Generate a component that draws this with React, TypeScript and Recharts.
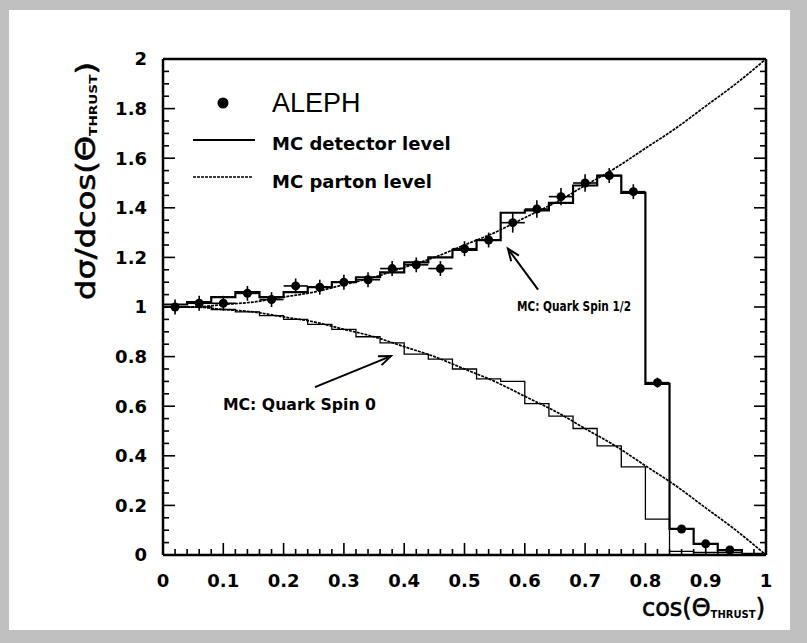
import React from "react";
import {
  ComposedChart,
  Line,
  Scatter,
  ErrorBar,
  XAxis,
  YAxis,
  ReferenceLine,
} from "recharts";

// bin edges of the cos(theta_thrust) histograms
const binEdges = [
  0, 0.04, 0.08, 0.12, 0.16, 0.2, 0.24, 0.28, 0.32, 0.36, 0.4, 0.44, 0.48,
  0.52, 0.56, 0.6, 0.64, 0.68, 0.72, 0.76, 0.8, 0.84, 0.88, 0.92, 0.96, 1.0,
];
const binCenters = [
  0.02, 0.06, 0.1, 0.14, 0.18, 0.22, 0.26, 0.3, 0.34, 0.38, 0.42, 0.46, 0.5,
  0.54, 0.58, 0.62, 0.66, 0.7, 0.74, 0.78, 0.82, 0.86, 0.9, 0.94,
];

const alephValues = [
  1.0, 1.015, 1.015, 1.055, 1.03, 1.085, 1.08, 1.1, 1.11, 1.155, 1.17, 1.155,
  1.235, 1.27, 1.34, 1.395, 1.445, 1.5, 1.53, 1.465, 0.695, 0.105, 0.045, 0.02,
];
const alephErrors = [
  0.03, 0.03, 0.03, 0.03, 0.03, 0.03, 0.03, 0.03, 0.03, 0.03, 0.03, 0.03, 0.03,
  0.03, 0.04, 0.035, 0.035, 0.035, 0.03, 0.03, 0.02, 0.01, 0.01, 0.01,
];

// MC detector level, one value per bin
const mcSpinHalf = [
  1.01, 1.02, 1.04, 1.06, 1.04, 1.06, 1.08, 1.1, 1.12, 1.14, 1.18, 1.2, 1.23,
  1.27, 1.38, 1.39, 1.42, 1.49, 1.53, 1.46, 0.69, 0.105, 0.045, 0.02, 0.005,
];
const mcSpinZero = [
  1.0, 1.0, 0.99, 0.98, 0.965, 0.95, 0.93, 0.91, 0.88, 0.855, 0.81, 0.79, 0.75,
  0.71, 0.7, 0.61, 0.56, 0.51, 0.44, 0.355, 0.145, 0.015, 0.01, 0.01, 0.005,
];

// MC parton level curves
const partonX = [
  0, 0.05, 0.1, 0.15, 0.2, 0.25, 0.3, 0.35, 0.4, 0.45, 0.5, 0.55, 0.6, 0.65,
  0.7, 0.75, 0.8, 0.85, 0.9, 0.95, 1.0,
];
const partonSpinHalf = [
  1.0, 1.0, 1.01, 1.02, 1.04, 1.06, 1.09, 1.12, 1.16, 1.2, 1.25, 1.3, 1.36,
  1.42, 1.49, 1.56, 1.64, 1.72, 1.81, 1.9, 2.0,
];
const partonSpinZero = [
  1.0, 1.0, 0.99, 0.98, 0.96, 0.94, 0.91, 0.88, 0.84, 0.8, 0.75, 0.7, 0.64,
  0.58, 0.51, 0.44, 0.36, 0.28, 0.19, 0.1, 0.0,
];

const xTickLabels = ["0", "0.1", "0.2", "0.3", "0.4", "0.5", "0.6", "0.7", "0.8", "0.9", "1"];
const yTickLabels = ["0", "0.2", "0.4", "0.6", "0.8", "1", "1.2", "1.4", "1.6", "1.8", "2"];

const histo = (vals: number[]) =>
  binEdges.map((x, i) => ({ x, y: vals[Math.min(i, vals.length - 1)] }));
const curve = (vals: number[]) => partonX.map((x, i) => ({ x, y: vals[i] }));
const alephData = binCenters.map((x, i) => ({
  x,
  y: alephValues[i],
  ey: alephErrors[i],
  ex: 0.02,
}));

const xTicks: number[] = [];
for (let i = 0; i <= 50; i++) xTicks.push(i / 50);
const yTicks: number[] = [];
for (let i = 0; i <= 40; i++) yTicks.push(i / 20);

const near = (a: number, b: number) => Math.abs(a - b) < 1e-6;
const xLabel = (v: number) => {
  const k = xTickLabels.findIndex((_, i) => near(v, i / 10));
  return k >= 0 ? xTickLabels[k] : null;
};
const yLabel = (v: number) => {
  const k = yTickLabels.findIndex((_, i) => near(v, i / 5));
  return k >= 0 ? yTickLabels[k] : null;
};

const FONT = "'DejaVu Sans', sans-serif";
const MAJ = 12;
const MIN = 6;

const BottomTick = (p: any) => {
  const lab = xLabel(p.payload.value);
  return (
    <g>
      <line x1={p.x} x2={p.x} y1={p.y} y2={p.y - (lab ? MAJ : MIN)} stroke="#000" strokeWidth={1.6} />
      {lab && (
        <text x={p.x} y={p.y + 32} textAnchor="middle" fontFamily={FONT} fontWeight="bold" fontSize={18} fill="#000">
          {lab}
        </text>
      )}
    </g>
  );
};
const TopTick = (p: any) => {
  const lab = xLabel(p.payload.value);
  return <line x1={p.x} x2={p.x} y1={p.y} y2={p.y + (lab ? MAJ : MIN)} stroke="#000" strokeWidth={1.6} />;
};
const LeftTick = (p: any) => {
  const lab = yLabel(p.payload.value);
  return (
    <g>
      <line x1={p.x} x2={p.x + (lab ? MAJ : MIN)} y1={p.y} y2={p.y} stroke="#000" strokeWidth={1.6} />
      {lab && (
        <text x={p.x - 16} y={p.y} dy="0.36em" textAnchor="end" fontFamily={FONT} fontWeight="bold" fontSize={18} fill="#000">
          {lab}
        </text>
      )}
    </g>
  );
};
const RightTick = (p: any) => {
  const lab = yLabel(p.payload.value);
  return <line x1={p.x} x2={p.x - (lab ? MAJ : MIN)} y1={p.y} y2={p.y} stroke="#000" strokeWidth={1.6} />;
};

const arrowShape = (p: any) => {
  const { x1, y1, x2, y2 } = p;
  const a = Math.atan2(y2 - y1, x2 - x1);
  const L = 13;
  const s = 0.38;
  const ax = x2 - L * Math.cos(a - s);
  const ay = y2 - L * Math.sin(a - s);
  const bx = x2 - L * Math.cos(a + s);
  const by = y2 - L * Math.sin(a + s);
  return (
    <g>
      <line x1={x1} y1={y1} x2={x2} y2={y2} stroke="#000" strokeWidth={2} />
      <polyline points={`${ax},${ay} ${x2},${y2} ${bx},${by}`} fill="none" stroke="#000" strokeWidth={2} />
    </g>
  );
};

const Dot = (p: any) => <circle cx={p.cx} cy={p.cy} r={4.5} fill="#000" />;

const axisLine = { stroke: "#000", strokeWidth: 2.5 };

export default function App() {
  return (
    <div style={{ position: "absolute", left: 0, top: 0, width: 807, height: 643, background: "#c0c0c0" }}>
      <div style={{ position: "absolute", left: 9, top: 10, width: 781, height: 620, background: "#fff" }} />
      <div style={{ position: "absolute", left: 0, top: 0 }}>
        <ComposedChart width={807} height={643} margin={{ top: 58, right: 40, bottom: 87, left: 162 }}>
          <XAxis
            dataKey="x"
            type="number"
            domain={[0, 1]}
            ticks={xTicks}
            interval={0}
            height={1}
            tickSize={0}
            tickMargin={0}
            tickLine={false}
            axisLine={axisLine}
            tick={BottomTick}
            allowDataOverflow
          />
          <XAxis
            xAxisId="top"
            orientation="top"
            type="number"
            domain={[0, 1]}
            ticks={xTicks}
            interval={0}
            height={1}
            tickSize={0}
            tickMargin={0}
            tickLine={false}
            axisLine={axisLine}
            tick={TopTick}
            allowDataOverflow
          />
          <YAxis
            type="number"
            domain={[0, 2]}
            ticks={yTicks}
            interval={0}
            width={1}
            tickSize={0}
            tickMargin={0}
            tickLine={false}
            axisLine={axisLine}
            tick={LeftTick}
            allowDataOverflow
          />
          <YAxis
            yAxisId="right"
            orientation="right"
            type="number"
            domain={[0, 2]}
            ticks={yTicks}
            interval={0}
            width={1}
            tickSize={0}
            tickMargin={0}
            tickLine={false}
            axisLine={axisLine}
            tick={RightTick}
            allowDataOverflow
          />
          <Line data={curve(partonSpinHalf)} dataKey="y" type="monotone" stroke="#000" strokeWidth={1.7} strokeDasharray="3 1" dot={false} isAnimationActive={false} />
          <Line data={curve(partonSpinZero)} dataKey="y" type="monotone" stroke="#000" strokeWidth={1.7} strokeDasharray="3 1" dot={false} isAnimationActive={false} />
          <Line data={histo(mcSpinZero)} dataKey="y" type="stepAfter" stroke="#000" strokeWidth={1.3} dot={false} isAnimationActive={false} />
          <Line data={histo(mcSpinHalf)} dataKey="y" type="stepAfter" stroke="#000" strokeWidth={2.2} dot={false} isAnimationActive={false} />
          <Scatter data={alephData} dataKey="y" shape={Dot} isAnimationActive={false}>
            <ErrorBar dataKey="ey" direction="y" width={0} stroke="#000" strokeWidth={1.6} />
            <ErrorBar dataKey="ex" direction="x" width={0} stroke="#000" strokeWidth={1.6} />
          </Scatter>
          <ReferenceLine segment={[{ x: 0.622, y: 1.07 }, { x: 0.572, y: 1.235 }]} shape={arrowShape} />
          <ReferenceLine segment={[{ x: 0.252, y: 0.677 }, { x: 0.378, y: 0.802 }]} shape={arrowShape} />
        </ComposedChart>
      </div>
      <svg width={807} height={643} style={{ position: "absolute", left: 0, top: 0, pointerEvents: "none" }}>
        {/* legend */}
        <circle cx={223} cy={103} r={5.5} fill="#000" />
        <text x={272} y={112} fontFamily="'Liberation Sans', Arial, sans-serif" fontSize={27} fill="#000">ALEPH</text>
        <line x1={193} x2={255} y1={140} y2={140} stroke="#000" strokeWidth={2} />
        <text x={272} y={150} fontFamily={FONT} fontWeight="bold" fontSize={18} fill="#000">MC detector level</text>
        <line x1={193} x2={252} y1={177} y2={177} stroke="#000" strokeWidth={1.7} strokeDasharray="3 1" />
        <text x={272} y={188} fontFamily={FONT} fontWeight="bold" fontSize={18} fill="#000">MC parton level</text>
        {/* annotations */}
        <text x={517} y={311} fontFamily={FONT} fontWeight="bold" fontSize={14.5} textLength={114} lengthAdjust="spacingAndGlyphs" fill="#000">MC: Quark Spin 1/2</text>
        <text x={223} y={410} fontFamily={FONT} fontWeight="bold" fontSize={15} textLength={153} lengthAdjust="spacingAndGlyphs" fill="#000">MC: Quark Spin 0</text>
        {/* axis titles */}
        <text x={765} y={616} textAnchor="end" fontFamily={FONT} fontSize={24} stroke="#000" strokeWidth={0.6} fill="#000">
          cos(Θ<tspan fontSize={10} fontWeight="bold" strokeWidth={0} dy={2}>THRUST</tspan><tspan dy={-2}>)</tspan>
        </text>
        <text x={95} y={62} textAnchor="end" transform="rotate(-90 95 62)" fontFamily={FONT} fontSize={26} stroke="#000" strokeWidth={0.6} textLength={238} lengthAdjust="spacingAndGlyphs" fill="#000">
          dσ/dcos(Θ<tspan fontSize={11} fontWeight="bold" strokeWidth={0} dy={2}>THRUST</tspan><tspan dy={-2}>)</tspan>
        </text>
      </svg>
    </div>
  );
}
